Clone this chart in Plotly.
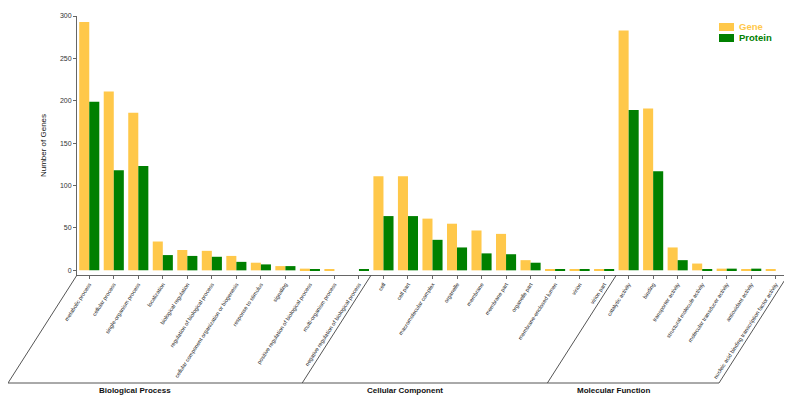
import plotly.graph_objects as go

# ---- data ----
bp_terms = ["metabolic process", "cellular process", "single-organism process", "localization",
            "biological regulation", "regulation of biological process",
            "cellular component organization or biogenesis", "response to stimulus", "signaling",
            "positive regulation of biological process", "multi-organism process",
            "negative regulation of biological process"]
cc_terms = ["cell", "cell part", "macromolecular complex", "organelle", "membrane", "membrane part",
            "organelle part", "membrane-enclosed lumen", "virion", "virion part"]
mf_terms = ["catalytic activity", "binding", "transporter activity", "structural molecule activity",
            "molecular transducer activity", "antioxidant activity",
            "nucleic acid binding transcription factor activity"]
group_names = ["Biological Process", "Cellular Component", "Molecular Function"]

gene_bp = [293, 211, 186, 34, 24, 23, 17, 9, 5, 2, 1, 0]
gene_cc = [111, 111, 61, 55, 47, 43, 12, 1, 1, 1]
gene_mf = [283, 191, 27, 8, 2, 1, 1]
prot_bp = [199, 118, 123, 18, 17, 16, 10, 7, 5, 1, 0, 1]
prot_cc = [64, 64, 36, 27, 20, 19, 9, 1, 1, 1]
prot_mf = [189, 117, 12, 1, 2, 2, 0]

y_ticks = [0, 50, 100, 150, 200, 250, 300]
series_names = ["Gene", "Protein"]

categories = bp_terms + cc_terms + mf_terms
gene = gene_bp + gene_cc + gene_mf
protein = prot_bp + prot_cc + prot_mf
xpos = list(range(len(categories)))

YELLOW = "#FFC84A"
GREEN = "#008000"
colors = [YELLOW, GREEN]

# page body adds an 8px offset; size the figure to fill the rest of the 792x397 window
OFF = 8
W, H = 792 - OFF, 397 - OFF
ML, MR, MT, MB = 77 - OFF, 4, 16 - OFF, 122
plot_w = W - ML - MR
plot_h = H - MT - MB

fig = go.Figure()
for name, vals, col in zip(series_names, [gene, protein], colors):
    fig.add_trace(go.Bar(x=xpos, y=vals, name=name, showlegend=False,
                         marker=dict(color=col, line=dict(width=0))))

n = len(categories)
xr = [-0.5, n - 0.5]


def xp(v):  # data x -> paper x
    return (v - xr[0]) / (xr[1] - xr[0])


def px_x(dpx):  # pixel offset -> paper width
    return dpx / plot_w


def px_y(dpx):
    return dpx / plot_h


# slanted group separator lines
drop_px = 108          # vertical drop below axis
slant_px = 69          # horizontal shift to the left
y_bot = -px_y(drop_px)
dxp = px_x(slant_px)
sizes = [len(bp_terms), len(cc_terms), len(mf_terms)]
bounds = [-0.5]
for s in sizes:
    bounds.append(bounds[-1] + s)

line_style = dict(color="#555555", width=1)
shapes = []
for b in bounds:
    shapes.append(dict(type="line", xref="paper", yref="paper", x0=xp(b), y0=0,
                       x1=xp(b) - dxp, y1=y_bot, line=line_style))
shapes.append(dict(type="line", xref="paper", yref="paper", x0=xp(bounds[0]) - dxp, y0=y_bot,
                   x1=xp(bounds[-1]) - dxp, y1=y_bot, line=line_style))

annotations = []
for i, g in enumerate(group_names):
    cx = (xp(bounds[i]) + xp(bounds[i + 1])) / 2 - dxp - px_x(20)
    annotations.append(dict(x=cx, y=y_bot, xref="paper", yref="paper", text="<b>%s</b>" % g,
                            showarrow=False, xanchor="center", yanchor="top", yshift=-1,
                            font=dict(size=8, color="#111111", family="Liberation Sans, Arial")))

# legend drawn as swatches + coloured bold labels
leg_x = px_x(719 - 77)
for i, (name, col) in enumerate(zip(series_names, colors)):
    top = 1 - px_y(23 - 16 + i * 11)
    shapes.append(dict(type="rect", xref="paper", yref="paper", x0=leg_x, x1=leg_x + px_x(15),
                       y0=top - px_y(8), y1=top, fillcolor=col, line=dict(width=0)))
    annotations.append(dict(x=leg_x + px_x(18), y=top - px_y(4), xref="paper", yref="paper",
                            text="<b>%s</b>" % name, showarrow=False, xanchor="left",
                            yanchor="middle",
                            font=dict(size=9.5, color=col, family="Liberation Sans, Arial")))

fig.update_layout(
    width=W, height=H,
    margin=dict(l=ML, r=MR, t=MT, b=MB, pad=0, autoexpand=False),
    paper_bgcolor="white", plot_bgcolor="white",
    barmode="group", bargap=0.18, bargroupgap=0,
    font=dict(family="Liberation Sans, Arial", size=7, color="#333333"),
    shapes=shapes, annotations=annotations, showlegend=False,
    xaxis=dict(range=xr, tickmode="array", tickvals=xpos, ticktext=categories,
               tickangle=-57, tickfont=dict(size=5.5, color="#222222"),
               showline=True, linecolor="#666666", linewidth=1,
               ticks="outside", ticklen=3, tickcolor="#666666",
               showgrid=False, zeroline=False, automargin=False),
    yaxis=dict(range=[-5.5, 300], tickmode="array", tickvals=y_ticks,
               tickfont=dict(size=7, color="#333333"),
               showline=True, linecolor="#666666", linewidth=1,
               ticks="outside", ticklen=3, tickcolor="#666666",
               showgrid=False, zeroline=False, automargin=False,
               title=dict(text="Number of Genes", font=dict(size=8, color="#111111"), standoff=12)),
)

fig.write_html("out.html")
